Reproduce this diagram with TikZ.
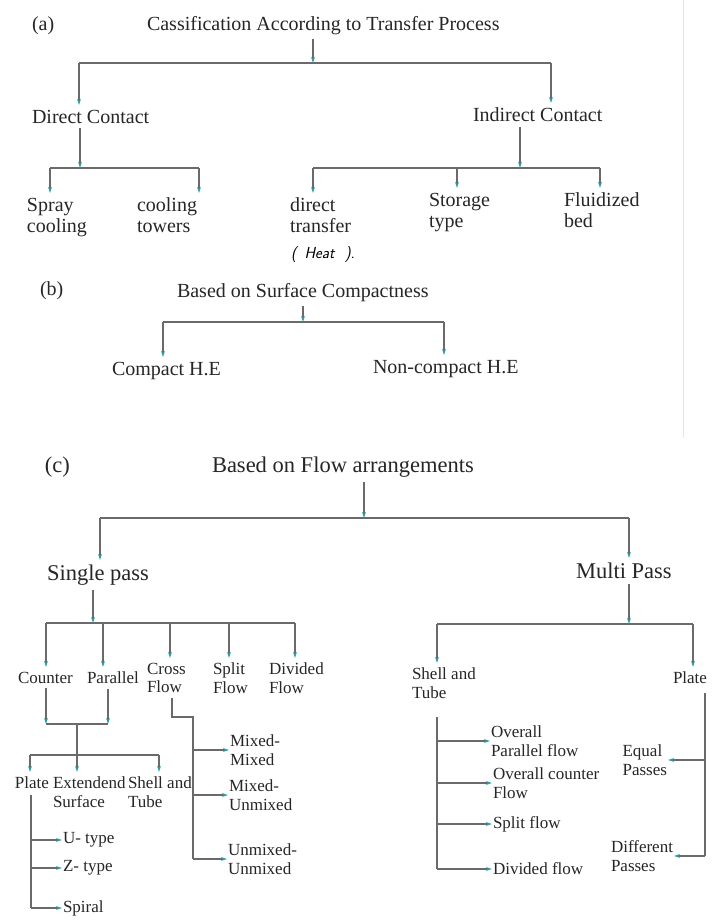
\documentclass[tikz,border=0pt]{standalone}
\usepackage{fontspec}
\setmainfont{Liberation Serif}
\usetikzlibrary{arrows.meta}

\definecolor{lngray}{HTML}{6A6A6A}
\definecolor{tipteal}{HTML}{2A9FA8}
\definecolor{txtgray}{HTML}{262626}
\definecolor{rulegray}{HTML}{E6E6E6}

\tikzset{
  lbl/.style={anchor=north west, inner sep=0pt, outer xsep=1pt, outer ysep=5pt,
              text=txtgray, align=left},
  txtA/.style={lbl, font=\fontsize{20}{21}\selectfont},
  txtC/.style={lbl, font=\fontsize{22.5}{24}\selectfont},
  txtD/.style={lbl, font=\fontsize{17}{18.5}\selectfont},
  hand/.style={lbl, font=\fontsize{16}{17}\selectfont\sffamily\itshape, text=black},
  ln/.style={draw=lngray, line width=1.4pt},
  arr/.style={ln, -{Stealth[length=6pt,width=3.8pt,color=tipteal]}},
}

\begin{document}
\begin{tikzpicture}[x=1pt,y=-1pt]
  \useasboundingbox[fill=white] (0,0) rectangle (715,922);
  \draw[rulegray, line width=1pt] (683,0) -- (683,438);

  % (a) transfer process
  \node[txtA] (lblA) at (31,12) {(a)};
  \node[txtA] (ttlA) at (146,11) {Cassification According to Transfer Process};
  \node[txtA] (dc) at (31,105) {Direct Contact};
  \node[txtA] (ic) at (472,103) {Indirect Contact};
  \node[txtA] (sc) at (26,193) {Spray\\cooling};
  \node[txtA] (ct) at (136,193) {cooling\\towers};
  \node[txtA] (dt) at (289,193) {direct\\transfer};
  \node[hand] (ht) at (290,242) {(\, Heat\,\, ).};
  \node[txtA] (stt) at (428,188) {Storage\\type};
  \node[txtA] (fb) at (563,188) {Fluidized\\bed};

  \coordinate (aL) at (79,63);
  \coordinate (aM) at (313,63);
  \coordinate (aR) at (551,63);
  \draw[ln] (aL) -- (aR);
  \draw[arr] (aM |- ttlA.south) -- (aM);
  \draw[arr] (aL) -- (aL |- dc.north);
  \draw[arr] (aR) -- (aR |- ic.north);

  \coordinate (bL) at (50,168);
  \coordinate (bM) at (80,168);
  \coordinate (bR) at (199,168);
  \draw[ln] (bL) -- (bR);
  \draw[arr] (bM |- dc.south) -- (bM);
  \draw[arr] (bL) -- (bL |- sc.north);
  \draw[arr] (bR) -- (bR |- ct.north);

  \coordinate (cL) at (313,168);
  \coordinate (cS) at (457,168);
  \coordinate (cM) at (520,168);
  \coordinate (cR) at (600,168);
  \draw[ln] (cL) -- (cR);
  \draw[arr] (cM |- ic.south) -- (cM);
  \draw[arr] (cL) -- (cL |- dt.north);
  \draw[arr] (cS) -- (cS |- stt.north);
  \draw[arr] (cR) -- (cR |- fb.north);

  % (b) surface compactness
  \node[txtA] (lblB) at (39,277) {(b)};
  \node[txtA] (ttlB) at (176,278) {Based on Surface Compactness};
  \node[txtA] (chx) at (111,357) {Compact H.E};
  \node[txtA] (nchx) at (372,355) {Non-compact H.E};

  \coordinate (dL) at (163,322);
  \coordinate (dM) at (303,322);
  \coordinate (dR) at (444,322);
  \draw[ln] (dL) -- (dR);
  \draw[arr] (dM |- ttlB.south) -- (dM);
  \draw[arr] (dL) -- (dL |- chx.north);
  \draw[arr] (dR) -- (dR |- nchx.north);

  % (c) flow arrangements
  \node[txtC] (lblC) at (44,452) {(c)};
  \node[txtC] (ttlC) at (211,452) {Based on Flow arrangements};
  \node[txtC] (sp) at (46,560) {Single pass};
  \node[txtC] (mp) at (575,558) {Multi Pass};

  \coordinate (eL) at (100,518);
  \coordinate (eM) at (364,518);
  \coordinate (eR) at (629,518);
  \draw[ln] (eL) -- (eR);
  \draw[arr] (eM |- ttlC.south) -- (eM);
  \draw[arr] (eL) -- (eL |- sp.north);
  \draw[arr] (eR) -- (eR |- mp.north);

  % single pass
  \node[txtD] (ctr) at (17,667) {Counter};
  \node[txtD] (par) at (86,667) {Parallel};
  \node[txtD] (cf) at (146,658) {Cross\\Flow};
  \node[txtD] (sf) at (212,658) {Split\\Flow};
  \node[txtD] (dvf) at (268,658) {Divided\\Flow};
  \node[txtD] (plt) at (14,772) {Plate};
  \node[txtD] (es) at (52,772) {Extendend\\Surface};
  \node[txtD] (sat) at (127,772) {Shell and\\Tube};
  \node[txtD, anchor=west] (ut) at (62,840) {U- type};
  \node[txtD, anchor=west] (zt) at (62,868) {Z- type};
  \node[txtD, anchor=west] (spl) at (62,908) {Spiral};
  \node[txtD, anchor=west] (mm) at (229,750) {Mixed-\\Mixed};
  \node[txtD, anchor=west] (mu) at (228,795) {Mixed-\\Unmixed};
  \node[txtD, anchor=west] (uu) at (227,859) {Unmixed-\\Unmixed};

  \coordinate (fL) at (46,623);
  \coordinate (fM) at (93,623);
  \coordinate (fP) at (103,623);
  \coordinate (fC) at (170,623);
  \coordinate (fS) at (229,623);
  \coordinate (fR) at (295,623);
  \draw[ln] (fL) -- (fR);
  \draw[arr] (fM |- sp.south) -- (fM);
  \draw[arr] (fL) -- (fL |- ctr.north);
  \draw[arr] (fP) -- (fP |- par.north);
  \draw[arr] (fC) -- (fC |- cf.north);
  \draw[arr] (fS) -- (fS |- sf.north);
  \draw[arr] (fR) -- (fR |- dvf.north);

  \coordinate (gL) at (46,724);
  \coordinate (gM) at (77,724);
  \coordinate (gR) at (108,724);
  \draw[arr] (gL |- ctr.south) -- (gL);
  \draw[arr] (gR |- par.south) -- (gR);
  \draw[ln] (gL) -- (gR);
  \coordinate (hL) at (30,755);
  \coordinate (hM) at (77,755);
  \coordinate (hR) at (159,755);
  \draw[ln] (gM) -- (hM);
  \draw[ln] (hL) -- (hR);
  \draw[arr] (hL) -- (hL |- plt.north);
  \draw[arr] (hM) -- (hM |- es.north);
  \draw[arr] (hR) -- (hR |- sat.north);

  \coordinate (pV) at (31,795);
  \draw[ln] (pV) -- (pV |- spl.west);
  \draw[arr] (pV |- ut.west) -- (ut.west);
  \draw[arr] (pV |- zt.west) -- (zt.west);
  \draw[arr] (pV |- spl.west) -- (spl.west);

  \coordinate (kA) at (172,717);
  \coordinate (kB) at (193,717);
  \draw[ln] (kA |- cf.south) -- (kA) -- (kB) -- (kB |- uu.west);
  \draw[arr] (kB |- mm.west) -- (mm.west);
  \draw[arr] (kB |- mu.west) -- (mu.west);
  \draw[arr] (kB |- uu.west) -- (uu.west);

  % multi pass
  \node[txtD] (st2) at (411,663) {Shell and\\Tube};
  \node[txtD] (plt2) at (672,667) {Plate};
  \node[txtD, anchor=west] (opf) at (490,741) {Overall\\Parallel flow};
  \node[txtD, anchor=west] (ocf) at (492,783) {Overall counter\\Flow};
  \node[txtD, anchor=west] (spf) at (492,824) {Split flow};
  \node[txtD, anchor=west] (dvfl) at (492,869) {Divided flow};
  \node[txtD, anchor=east] (eqp) at (668,760) {Equal\\Passes};
  \node[txtD, anchor=east] (dfp) at (674,856) {Different\\Passes};

  \coordinate (mL) at (437,624);
  \coordinate (mM) at (629,624);
  \coordinate (mR) at (693,624);
  \draw[ln] (mL) -- (mR);
  \draw[arr] (mM |- mp.south) -- (mM);
  \draw[arr] (mL) -- (mL |- st2.north);
  \draw[arr] (mR) -- (mR |- plt2.north);

  \coordinate (sV) at (437,717);
  \draw[ln] (sV) -- (sV |- dvfl.west);
  \draw[arr] (sV |- opf.west) -- (opf.west);
  \draw[arr] (sV |- ocf.west) -- (ocf.west);
  \draw[arr] (sV |- spf.west) -- (spf.west);
  \draw[arr] (sV |- dvfl.west) -- (dvfl.west);

  \coordinate (qV) at (705,693);
  \draw[ln] (qV) -- (qV |- dfp.east);
  \draw[arr] (qV |- eqp.east) -- (eqp.east);
  \draw[arr] (qV |- dfp.east) -- (dfp.east);
\end{tikzpicture}
\end{document}
